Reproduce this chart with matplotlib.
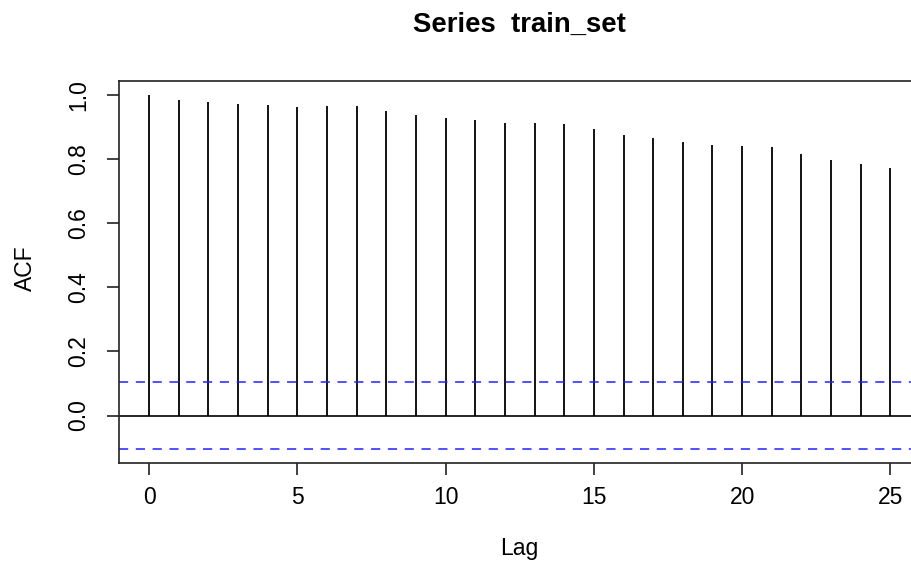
import matplotlib
matplotlib.use("Agg")
import matplotlib.pyplot as plt
import numpy as np

plt.rcParams["font.family"] = ["Liberation Sans", "DejaVu Sans"]

# autocorrelation of train_set, lags 0..25
lags = np.arange(26)
acf_vals = [1.000, 0.985, 0.977, 0.973, 0.967, 0.963, 0.965, 0.965, 0.951,
            0.936, 0.929, 0.921, 0.913, 0.911, 0.909, 0.892, 0.876, 0.866,
            0.854, 0.845, 0.839, 0.836, 0.815, 0.797, 0.784, 0.771]
conf_bound = 0.103
y_ticks = [0.0, 0.2, 0.4, 0.6, 0.8, 1.0]
x_ticks = [0, 5, 10, 15, 20, 25]

W, H = 912, 563
fig = plt.figure(figsize=(W / 100, H / 100), dpi=100)
# axes run a little past the right edge of the canvas
left, right, top, bottom = 119.5, 920.0, 80.7, 462.7
ax = fig.add_axes([left / W, 1 - bottom / H, (right - left) / W, (bottom - top) / H])

ax.vlines(lags, 0, acf_vals, color="black", lw=1.3)
ax.axhline(0, color="black", lw=1.2)
for b in (conf_bound, -conf_bound):
    ax.axhline(b, color="#2222ff", lw=1.1, dashes=(6, 5))

ax.set_xlim(-1, 26)
ymin, ymax = -conf_bound, 1.0
pad = (ymax - ymin) * 0.04
ax.set_ylim(ymin - pad, ymax + pad)

ax.set_xticks(x_ticks)
ax.set_yticks(y_ticks)
ax.set_xticklabels([str(t) for t in x_ticks])
ax.set_yticklabels([f"{t:.1f}" for t in y_ticks], rotation=90, va="center")
ax.tick_params(axis="both", length=8.6, width=1.2, labelsize=16.5, color="#222222")
ax.tick_params(axis="x", pad=8.5)
ax.tick_params(axis="y", pad=12.5)
for s in ("left", "bottom", "top"):
    ax.spines[s].set_linewidth(1.2)
    ax.spines[s].set_color("#222222")
ax.spines["right"].set_visible(False)

cx = (left + right) / 2 / W
fig.text(cx, 1 - 25 / H, "Series  train_set", ha="center", va="center",
         fontsize=19.8, fontweight="bold")
fig.text(cx, 1 - 548 / H, "Lag", ha="center", va="center", fontsize=16.5)
fig.text(25 / W, 1 - 268 / H, "ACF", ha="center", va="center", fontsize=16.5,
         rotation=90)

fig.savefig("out.png", dpi=100, facecolor="white")
